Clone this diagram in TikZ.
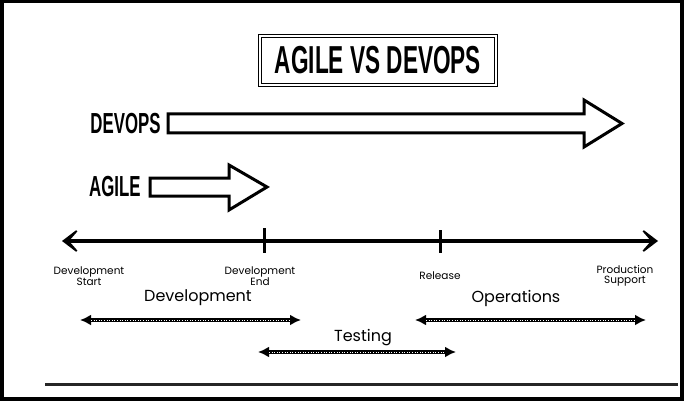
\documentclass[tikz,border=0pt]{standalone}
\usepackage{fontspec}
\setmainfont{Poppins}
\newfontfamily\headfont[FakeStretch=0.58]{Liberation Sans}
\usepackage{tikz}
\usetikzlibrary{arrows.meta, positioning}

\begin{document}
\begin{tikzpicture}[x=1pt, y=-1pt, thick,
    headlbl/.style={font=\headfont\bfseries\fontsize{29}{30}\selectfont, inner sep=0pt},
    pointlbl/.style={font=\fontsize{10.5}{10.5}\selectfont, align=center, inner sep=0pt},
    phaselbl/.style={font=\fontsize{16}{16}\selectfont, inner sep=0pt},
    hollow/.style={draw, line width=3pt, line join=miter},
    marker/.style={line width=3pt},
    phase/.style={line width=4.5pt, {Latex[length=11pt,width=11pt]}-{Latex[length=11pt,width=11pt]}},
    phasecore/.style={white, line width=0.6pt, dotted, shorten <=11pt, shorten >=11pt}]
  \useasboundingbox (0,0) rectangle (685,401);
  \draw[line width=4pt] (2,1.5) rectangle (682,399);
  \draw[line width=3pt, black!85] (45,384) -- (678,384);

  % title
  \node[draw, double, double distance=1.6pt, line width=1.2pt, minimum width=236pt, minimum height=49pt,
        font=\headfont\bfseries\fontsize{39}{40}\selectfont, inner sep=0pt] (title) at (378,60.5) {AGILE VS DEVOPS};

  % scope arrows
  \node[headlbl, anchor=east] (devops) at (161,123.5) {DEVOPS};
  \node[headlbl, anchor=east] (agile) at (141,187) {AGILE};
  \draw[hollow] (168,114) -- (584,114) -- (584,100) -- (622,123.5) -- (584,147) -- (584,133) -- (168,133) -- cycle;
  \draw[hollow] (150,178) -- (229,178) -- (229,165) -- (267,187) -- (229,210) -- (229,196) -- (150,196) -- cycle;

  % timeline
  \coordinate (devstart) at (62,241);
  \coordinate (devend) at (264,241);
  \coordinate (release) at (440,241);
  \coordinate (support) at (658,241);
  \draw[line width=4pt, {Stealth[length=21pt,width=32pt,inset=14pt]}-{Stealth[length=21pt,width=32pt,inset=14pt]}] (devstart) -- (support);
  \draw[marker] ([yshift=13pt]devend) -- ([yshift=-12pt]devend);
  \draw[marker] ([yshift=11pt]release) -- ([yshift=-12pt]release);

  \node[pointlbl] (startlbl) at (89,276) {Development\\Start};
  \node[pointlbl] (endlbl) at (260,276) {Development\\End};
  \node[pointlbl] (releaselbl) at (440,276) {Release};
  \node[pointlbl] (supportlbl) at (625,276) {Production\\Support};

  % phases
  \node[phaselbl] (devlbl) at (198,298) {Development};
  \node[phaselbl] (opslbl) at (516,298) {Operations};
  \node[phaselbl] (testlbl) at (363,338) {Testing};
  \coordinate (devL) at (80,320);
  \coordinate (devR) at (301,320);
  \coordinate (opsL) at (415,320);
  \coordinate (opsR) at (646,320);
  \coordinate (testL) at (258,352);
  \coordinate (testR) at (456,352);
  \draw[phase] (devL) -- (devR);
  \draw[phasecore] (devL) -- (devR);
  \draw[phase] (opsL) -- (opsR);
  \draw[phasecore] (opsL) -- (opsR);
  \draw[phase] (testL) -- (testR);
  \draw[phasecore] (testL) -- (testR);
\end{tikzpicture}
\end{document}
